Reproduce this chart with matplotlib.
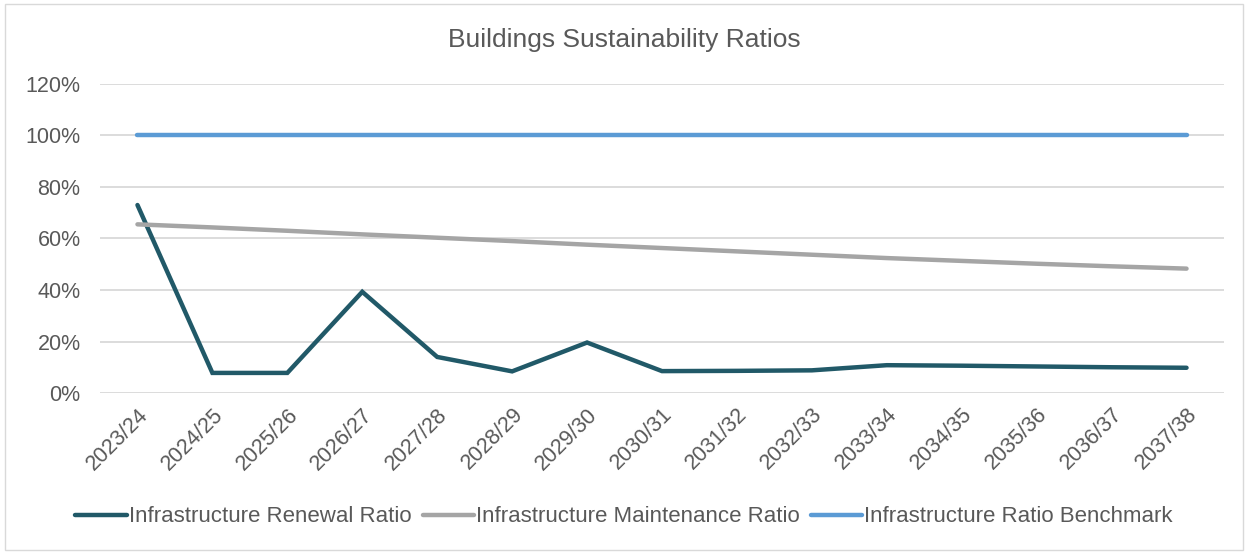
import matplotlib
matplotlib.use("Agg")
import matplotlib.pyplot as plt
from matplotlib.patches import Rectangle
from matplotlib.ticker import PercentFormatter

# DATA
years = ["2023/24", "2024/25", "2025/26", "2026/27", "2027/28", "2028/29", "2029/30",
         "2030/31", "2031/32", "2032/33", "2033/34", "2034/35", "2035/36", "2036/37", "2037/38"]
renewal = [73.0, 7.8, 7.8, 39.3, 14.0, 8.4, 19.6, 8.5, 8.6, 8.8, 10.8, 10.6, 10.3, 10.0, 9.8]
maintenance = [65.5, 64.3, 63.0, 61.6, 60.3, 59.0, 57.6, 56.3, 55.0, 53.7, 52.4, 51.3, 50.2, 49.2, 48.3]
benchmark = [100.0] * len(years)

# STYLE
plt.rcParams['font.family'] = ['Liberation Sans', 'DejaVu Sans']
text_col = "#595959"

fig = plt.figure(figsize=(12.48, 5.54), dpi=100)
ax = fig.add_axes([100 / 1248, 1 - 393 / 554, 1124 / 1248, (393 - 84) / 554])

x = range(len(years))
ax.plot(x, renewal, color="#215968", lw=3.2, solid_capstyle="round", solid_joinstyle="miter",
        label="Infrastructure Renewal Ratio", zorder=3)
ax.plot(x, maintenance, color="#a5a5a5", lw=3.2, solid_capstyle="round",
        label="Infrastructure Maintenance Ratio", zorder=3)
ax.plot(x, benchmark, color="#5b9bd5", lw=3.2, solid_capstyle="round",
        label="Infrastructure Ratio Benchmark", zorder=3)

ax.set_xlim(-0.5, len(years) - 0.5)
ax.set_ylim(0, 120)
ax.set_yticks(range(0, 121, 20))
ax.yaxis.set_major_formatter(PercentFormatter(decimals=0))
ax.set_xticks(list(x))
ax.set_xticklabels(years, rotation=45, ha="right", rotation_mode="anchor")
ax.grid(axis="y", color="#d9d9d9", lw=1.3)
ax.set_axisbelow(True)
for s in ax.spines.values():
    s.set_visible(False)
ax.tick_params(length=0, labelsize=15.5, colors=text_col)
ax.tick_params(axis="x", pad=8)
ax.tick_params(axis="y", pad=14)

fig.text(0.5, 1 - 40 / 554, "Buildings Sustainability Ratios", ha="center", va="center",
         fontsize=19, color=text_col)

leg = fig.legend(loc="center", bbox_to_anchor=(0.5, 1 - 517 / 554), ncol=3, frameon=False,
                 fontsize=16, handlelength=2.3, handletextpad=0.1, columnspacing=0.5,
                 labelcolor=text_col)

# chart border
fig.patches.append(Rectangle((5 / 1248, 4 / 554), 1238 / 1248, 546 / 554, transform=fig.transFigure,
                             fill=False, edgecolor="#d9d9d9", lw=1))

fig.savefig("out.png", dpi=100)
